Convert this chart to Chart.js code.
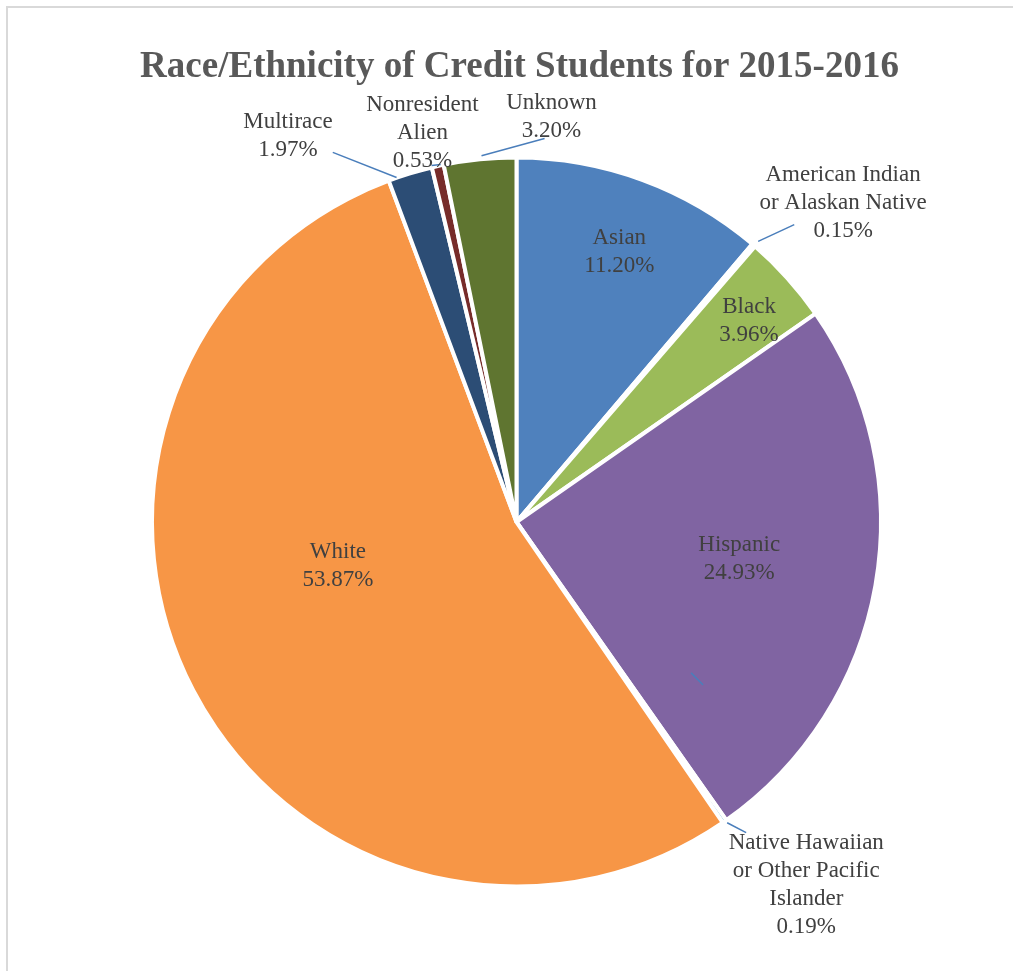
<!DOCTYPE html>
<html>
<head>
<meta charset="utf-8">
<script src="https://cdn.jsdelivr.net/npm/chart.js@4"></script>
<style>
  body { margin: 0; background: #fff; }
  canvas { display: block; }
</style>
</head>
<body>
<canvas id="myChart" width="1013" height="971"></canvas>
<script>
const labels = [
  "Asian",
  "American Indian or Alaskan Native",
  "Black",
  "Hispanic",
  "Native Hawaiian or Other Pacific Islander",
  "White",
  "Multirace",
  "Nonresident Alien",
  "Unknown"
];

const percents = [11.20, 0.15, 3.96, 24.93, 0.19, 53.87, 1.97, 0.53, 3.20];

const title = "Race/Ethnicity of Credit Students for 2015-2016";

// how each label is broken into lines
const labelLines = [
  ["Asian"],
  ["American Indian", "or Alaskan Native"],
  ["Black"],
  ["Hispanic"],
  ["Native Hawaiian", "or Other Pacific", "Islander"],
  ["White"],
  ["Multirace"],
  ["Nonresident", "Alien"],
  ["Unknown"]
];

const colors = [
  "#4F81BD", "#C0504D", "#9BBB59", "#8064A2", "#4BACC6",
  "#F79646", "#2C4D75", "#772C2A", "#5F7530"
];

// label centres, in pie radii from the pie centre
const labelPos = [
  [0.282, -0.740],
  [0.896, -0.874],
  [0.638, -0.551],
  [0.611, 0.101],
  [0.795, 0.995],
  [-0.490, 0.121],
  [-0.627, -1.058],
  [-0.258, -1.068],
  [0.096, -1.112]
];

// leader lines, in pie radii from the pie centre
const leaders = [
  [[-0.096, -1.005], [0.077, -1.052]],
  [[-0.233, -0.978], [-0.208, -0.981]],
  [[-0.504, -1.014], [-0.329, -0.945]],
  [[0.663, -0.770], [0.762, -0.816]],
  [[0.578, 0.825], [0.630, 0.852]],
  [[0.479, 0.414], [0.512, 0.447]]
];

// frame and title (the built-in title would be squeezed by the side padding)
const frame = {
  id: "frame",
  beforeDraw(chart) {
    const ctx = chart.ctx;
    ctx.save();
    ctx.strokeStyle = "#d9d9d9";
    ctx.lineWidth = 2;
    ctx.strokeRect(7, 7, 1100, 1100);
    ctx.fillStyle = "#595959";
    ctx.font = 'bold 37px "Liberation Serif"';
    ctx.textAlign = "center";
    ctx.textBaseline = "alphabetic";
    ctx.fillText(title, 519.5, 77, 764);
    ctx.restore();
  }
};

const pieLabels = {
  id: "pieLabels",
  afterDatasetsDraw(chart) {
    const ctx = chart.ctx;
    const arc = chart.getDatasetMeta(0).data[0];
    const cx = arc.x, cy = arc.y, r = arc.outerRadius;
    ctx.save();
    ctx.strokeStyle = "#4A7EBB";
    ctx.lineWidth = 1.5;
    leaders.forEach(function (l) {
      ctx.beginPath();
      ctx.moveTo(cx + l[0][0] * r, cy + l[0][1] * r);
      ctx.lineTo(cx + l[1][0] * r, cy + l[1][1] * r);
      ctx.stroke();
    });
    ctx.fillStyle = "#404040";
    ctx.font = '23px "Liberation Serif"';
    ctx.textAlign = "center";
    ctx.textBaseline = "middle";
    const lh = 28;
    percents.forEach(function (v, i) {
      const lines = labelLines[i].concat([v.toFixed(2) + "%"]);
      const x = cx + labelPos[i][0] * r;
      const y0 = cy + labelPos[i][1] * r - (lines.length - 1) * lh / 2;
      lines.forEach(function (t, k) {
        ctx.fillText(t, x, y0 + k * lh);
      });
    });
    ctx.restore();
  }
};

const data = {
  labels: labels,
  datasets: [
    {
      data: percents,
      backgroundColor: colors,
      borderColor: "#ffffff",
      borderWidth: 4
    }
  ]
};

const config = {
  type: "pie",
  data: data,
  options: {
    responsive: false,
    animation: false,
    layout: { padding: { left: 150, right: 130, top: 155, bottom: 82 } },
    plugins: {
      legend: { display: false },
      tooltip: { enabled: false },
      title: { display: false }
    }
  },
  plugins: [frame, pieLabels]
};

let myChart = new Chart(document.getElementById("myChart"), config);
</script>
</body>
</html>
